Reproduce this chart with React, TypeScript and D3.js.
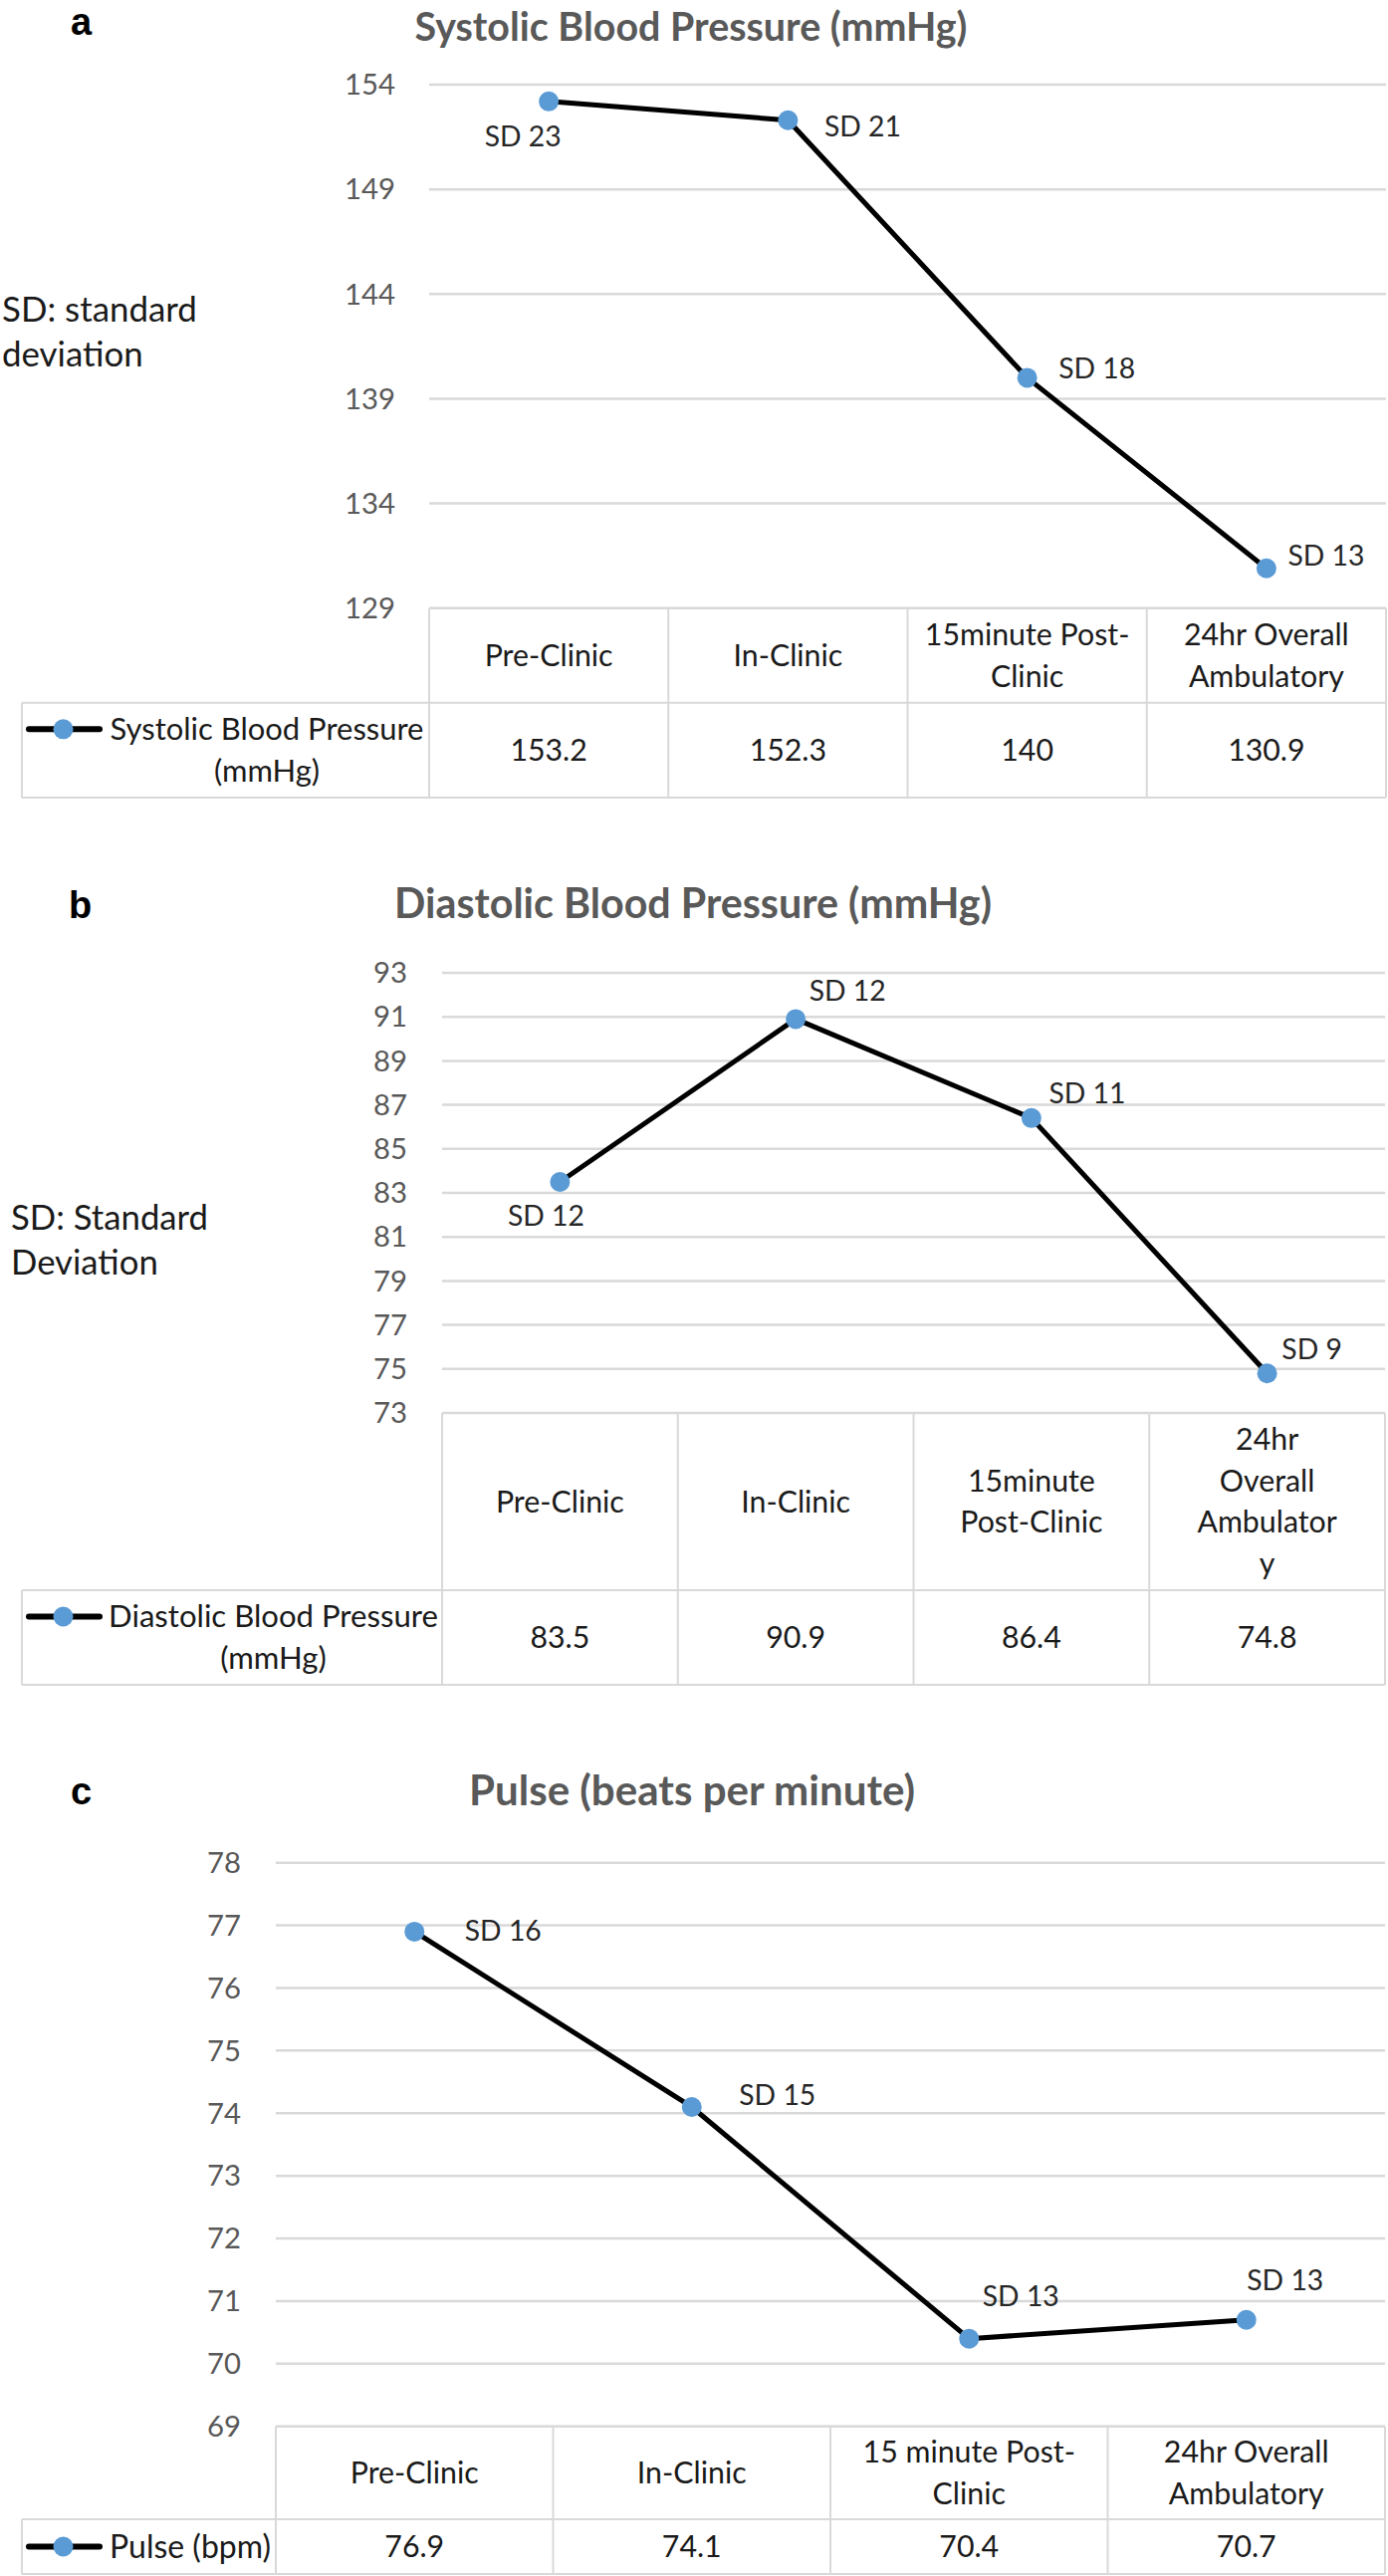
import React from "react";
import * as d3 from "d3";

// ---------- DATA ----------
const headerLinesA = [["Pre-Clinic"], ["In-Clinic"], ["15minute Post-", "Clinic"], ["24hr Overall", "Ambulatory"]];
const valuesA = [153.2, 152.3, 140, 130.9];
const sdA = [23, 21, 18, 13];
const ticksA = [129, 134, 139, 144, 149, 154];
const legendA = ["Systolic Blood Pressure", "(mmHg)"];
const titleA = "Systolic Blood Pressure (mmHg)";
const noteA = ["SD: standard", "deviation"];

const headerLinesB = [["Pre-Clinic"], ["In-Clinic"], ["15minute", "Post-Clinic"], ["24hr", "Overall", "Ambulator", "y"]];
const valuesB = [83.5, 90.9, 86.4, 74.8];
const sdB = [12, 12, 11, 9];
const ticksB = [73, 75, 77, 79, 81, 83, 85, 87, 89, 91, 93];
const legendB = ["Diastolic Blood Pressure", "(mmHg)"];
const titleB = "Diastolic Blood Pressure (mmHg)";
const noteB = ["SD: Standard", "Deviation"];

const headerLinesC = [["Pre-Clinic"], ["In-Clinic"], ["15 minute Post-", "Clinic"], ["24hr Overall", "Ambulatory"]];
const valuesC = [76.9, 74.1, 70.4, 70.7];
const sdC = [16, 15, 13, 13];
const ticksC = [69, 70, 71, 72, 73, 74, 75, 76, 77, 78];
const legendC = ["Pulse (bpm)"];
const titleC = "Pulse (beats per minute)";

// ---------- STYLE / LAYOUT ----------
const FAMILY = "Lato";
const FONT = "Lato, 'Open Sans', sans-serif";
const GRID = "#d9d9d9";
const DOT = "#5b9bd5";

let _ctx: CanvasRenderingContext2D | null = null;
function fitSize(text: string, weight: number, target: number, fallback: number) {
  try {
    if (!_ctx) _ctx = document.createElement("canvas").getContext("2d");
    if (!_ctx) return fallback;
    _ctx.font = `${weight} 100px ${FAMILY}`;
    const w = _ctx.measureText(text).width;
    if (!w) return fallback;
    return (100 * target) / w;
  } catch (e) {
    return fallback;
  }
}

type Layout = {
  letter: string; letterX: number; letterY: number;
  titleX: number; titleY: number; titleW: number;
  noteX?: number; noteY?: number; noteW?: number;
  plotLeft: number; plotRight: number; yTop: number; tableTop: number;
  headerBottom: number; tableBottom: number; tickRight: number;
  legendW: number;
  labelOffsets: number[][];
};

const layoutA: Layout = {
  letter: "a", letterX: 71, letterY: 35, titleX: 694, titleY: 41, titleW: 555, noteX: 2, noteY: 323, noteW: 196,
  plotLeft: 431, plotRight: 1392, yTop: 85, tableTop: 610.7, headerBottom: 705.7, tableBottom: 801, tickRight: 397,
  legendW: 315,
  labelOffsets: [[-26, 35], [75, 6], [70, -9], [60, -13]],
};
const layoutB: Layout = {
  letter: "b", letterX: 69, letterY: 922, titleX: 696, titleY: 922, titleW: 600, noteX: 11, noteY: 1235, noteW: 198,
  plotLeft: 444, plotRight: 1391, yTop: 977, tableTop: 1419, headerBottom: 1597, tableBottom: 1692, tickRight: 409,
  legendW: 331,
  labelOffsets: [[-14, 34], [52, -28], [56, -25], [45, -24]],
};
const layoutC: Layout = {
  letter: "c", letterX: 71, letterY: 1812, titleX: 695, titleY: 1813, titleW: 449,
  plotLeft: 277, plotRight: 1391, yTop: 1870.7, tableTop: 2436.7, headerBottom: 2530, tableBottom: 2585, tickRight: 242,
  legendW: 162,
  labelOffsets: [[89, -1], [86, -12], [52, -43], [39, -40]],
};

type PanelProps = {
  layout: Layout; headers: string[][]; values: number[]; sds: number[]; ticks: number[];
  legend: string[]; title: string; note?: string[];
};

function Panel({ layout: L, headers, values, sds, ticks, legend, title, note }: PanelProps) {
  const tableSize = fitSize("Pre-Clinic", 400, 129, 29);
  const tickSize = fitSize("154", 400, 51, 29);
  const sdSize = fitSize("SD 23", 400, 77, 28);
  const titleSize = fitSize(title, 700, L.titleW, 32);
  const legendSize = fitSize(legend[0], 400, L.legendW, 29);
  const noteSize = note ? fitSize(note[0], 400, L.noteW as number, 32) : 32;

  const idx = values.map((_, i) => i);
  const x = d3.scaleBand<number>().domain(idx).range([L.plotLeft, L.plotRight]).padding(0);
  const cx = (i: number) => (x(i) as number) + x.bandwidth() / 2;
  const y = d3.scaleLinear().domain([d3.min(ticks)!, d3.max(ticks)!]).range([L.tableTop, L.yTop]);
  const line = d3.line<number>().x((_, i) => cx(i)).y((v) => y(v));
  const headerMid = (L.tableTop + L.headerBottom) / 2;
  const rowMid = (L.headerBottom + L.tableBottom) / 2;
  const lh = 41.5;
  const legendLeft = 22;
  const markerX0 = 29, markerX1 = 100;
  const legendCenter = (markerX1 + 5 + L.plotLeft) / 2;
  const legendFirstY = rowMid - ((legend.length - 1) * 42) / 2;
  const colEdges = idx.map((i) => x(i) as number).concat([L.plotRight]);

  return (
    <g>
      <text x={L.letterX} y={L.letterY} fontFamily="'Liberation Sans', Arial, sans-serif" fontWeight="bold" fontSize={38} fill="#000">
        {L.letter}
      </text>
      <text x={L.titleX} y={L.titleY} textAnchor="middle" fontFamily={FONT} fontWeight="bold" fontSize={titleSize} fill="#595959">
        {title}
      </text>
      {note && note.map((t, i) => (
        <text key={i} x={L.noteX} y={(L.noteY as number) + i * 45} fontFamily={FONT} fontSize={noteSize} fill="#1a1a1a">{t}</text>
      ))}
      {ticks.map((t) => (
        <line key={t} x1={L.plotLeft} x2={L.plotRight} y1={y(t)} y2={y(t)} stroke={GRID} strokeWidth={2.5} />
      ))}
      {ticks.map((t) => (
        <text key={"t" + t} x={L.tickRight} y={y(t)} dy="0.35em" textAnchor="end" fontFamily={FONT} fontSize={tickSize} fill="#595959">
          {t}
        </text>
      ))}
      <g stroke={GRID} strokeWidth={2} fill="none">
        <line x1={L.plotLeft} x2={L.plotRight} y1={L.tableTop} y2={L.tableTop} />
        <line x1={legendLeft} x2={L.plotRight} y1={L.headerBottom} y2={L.headerBottom} />
        <line x1={legendLeft} x2={L.plotRight} y1={L.tableBottom} y2={L.tableBottom} />
        <line x1={legendLeft} x2={legendLeft} y1={L.headerBottom} y2={L.tableBottom} />
        {colEdges.map((e, i) => (
          <line key={i} x1={e} x2={e} y1={L.tableTop} y2={L.tableBottom} />
        ))}
      </g>
      {headers.map((lines, i) => (
        <g key={"h" + i}>
          {lines.map((ln, j) => (
            <text key={j} x={cx(i)} y={headerMid + (j - (lines.length - 1) / 2) * lh} dy="0.35em" textAnchor="middle"
              fontFamily={FONT} fontSize={tableSize} fill="#1a1a1a">{ln}</text>
          ))}
        </g>
      ))}
      {values.map((v, i) => (
        <text key={"v" + i} x={cx(i)} y={rowMid} dy="0.35em" textAnchor="middle" fontFamily={FONT} fontSize={tableSize} fill="#1a1a1a">
          {String(v)}
        </text>
      ))}
      <line x1={markerX0} x2={markerX1} y1={legendFirstY} y2={legendFirstY} stroke="#000" strokeWidth={6} strokeLinecap="round" />
      <circle cx={(markerX0 + markerX1) / 2 - 1} cy={legendFirstY} r={10} fill={DOT} />
      {legend.map((t, i) => (
        <text key={"l" + i} x={legendCenter} y={legendFirstY + i * 42} dy="0.35em" textAnchor="middle" fontFamily={FONT} fontSize={legendSize} fill="#1a1a1a">
          {t}
        </text>
      ))}
      <path d={line(values) || ""} fill="none" stroke="#000" strokeWidth={5} strokeLinejoin="round" />
      {values.map((v, i) => (
        <circle key={"c" + i} cx={cx(i)} cy={y(v)} r={10} fill={DOT} />
      ))}
      {values.map((v, i) => (
        <text key={"s" + i} x={cx(i) + L.labelOffsets[i][0]} y={y(v) + L.labelOffsets[i][1]} dy="0.35em" textAnchor="middle"
          fontFamily={FONT} fontSize={sdSize} fill="#262626">
          {"SD " + sds[i]}
        </text>
      ))}
    </g>
  );
}

export default function App() {
  return (
    <svg width={1394} height={2587} style={{ position: "absolute", left: 0, top: 0, background: "#fff" }}>
      <rect x={0} y={0} width={1394} height={2587} fill="#fff" />
      <Panel layout={layoutA} headers={headerLinesA} values={valuesA} sds={sdA} ticks={ticksA} legend={legendA} title={titleA} note={noteA} />
      <Panel layout={layoutB} headers={headerLinesB} values={valuesB} sds={sdB} ticks={ticksB} legend={legendB} title={titleB} note={noteB} />
      <Panel layout={layoutC} headers={headerLinesC} values={valuesC} sds={sdC} ticks={ticksC} legend={legendC} title={titleC} />
    </svg>
  );
}
